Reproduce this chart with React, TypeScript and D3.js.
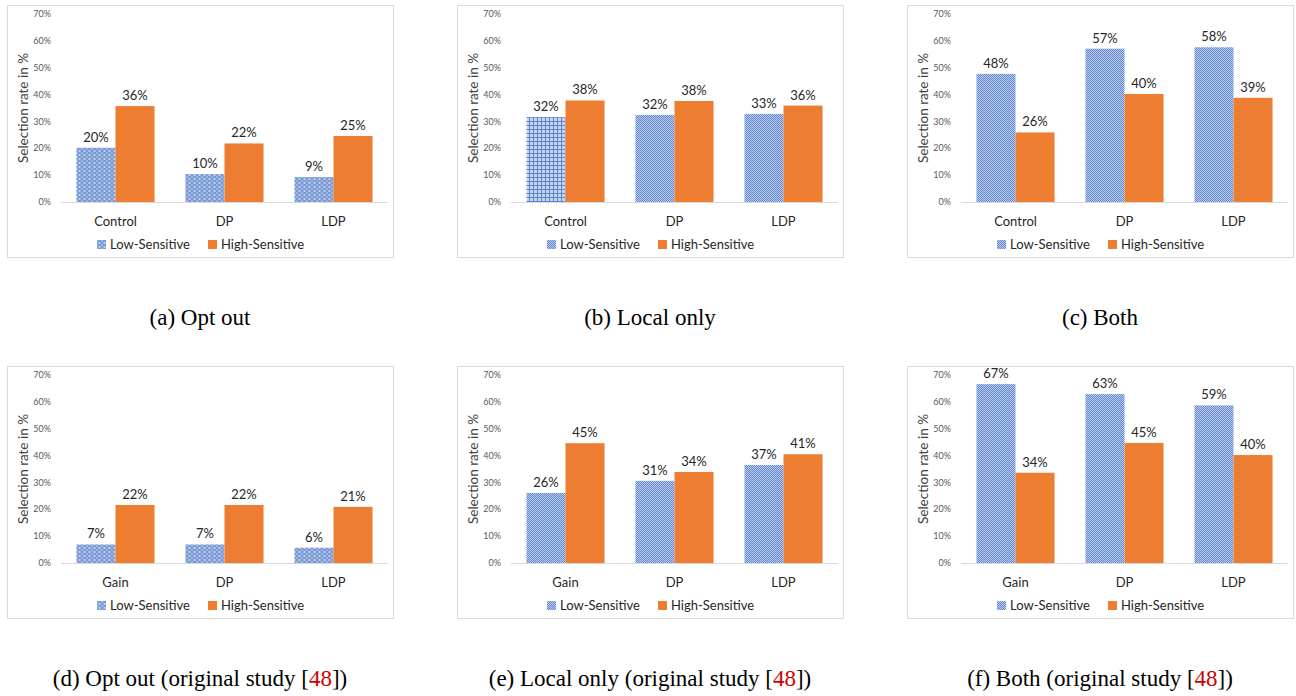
import React from 'react';
import * as d3 from 'd3';

// categories
const catsTop = ['Control', 'DP', 'LDP'];
const catsBottom = ['Gain', 'DP', 'LDP'];
const seriesNames = ['Low-Sensitive', 'High-Sensitive'];
const yTicks = [0, 10, 20, 30, 40, 50, 60, 70];

// values in %
const optOutLow = [20.2, 10.4, 9.3];
const optOutHigh = [35.7, 21.8, 24.6];
const localLow = [31.6, 32.4, 32.8];
const localHigh = [37.8, 37.6, 35.9];
const bothLow = [47.7, 57.1, 57.6];
const bothHigh = [25.9, 40.2, 38.8];
const origOptOutLow = [6.9, 6.9, 5.7];
const origOptOutHigh = [21.6, 21.6, 20.9];
const origLocalLow = [26.1, 30.6, 36.5];
const origLocalHigh = [44.6, 33.9, 40.5];
const origBothLow = [66.6, 62.9, 58.7];
const origBothHigh = [33.6, 44.7, 40.2];

const captions = ['(a) Opt out', '(b) Local only', '(c) Both', '(d) Opt out', '(e) Local only', '(f) Both'];

const BLUE = '#4472C4';
const ORANGE = '#ED7D31';
const FONT = 'Lato, "Open Sans", sans-serif';

const panels = [
  { cats: catsTop, low: optOutLow, high: optOutHigh, pat: ['wave', 'wave', 'wave'], legendPat: 'wave', x: 7, y: 5 },
  { cats: catsTop, low: localLow, high: localHigh, pat: ['grid', 'checker', 'checker'], legendPat: 'checker', x: 457, y: 5 },
  { cats: catsTop, low: bothLow, high: bothHigh, pat: ['checker', 'checker', 'checker'], legendPat: 'checker', x: 907, y: 5 },
  { cats: catsBottom, low: origOptOutLow, high: origOptOutHigh, pat: ['wave', 'wave', 'wave'], legendPat: 'wave', x: 7, y: 366 },
  { cats: catsBottom, low: origLocalLow, high: origLocalHigh, pat: ['checker', 'checker', 'checker'], legendPat: 'checker', x: 457, y: 366 },
  { cats: catsBottom, low: origBothLow, high: origBothHigh, pat: ['checker', 'checker', 'checker'], legendPat: 'checker', x: 907, y: 366 },
];

const W = 386;
const H = 252;
const plot = { left: 54, right: 381, top: 9, bottom: 197 };

const Panel = ({ p }: { p: any }) => {
  const y = d3.scaleLinear().domain([0, 70]).range([plot.bottom, plot.top]);
  const x0 = d3.scaleBand().domain(p.cats).range([plot.left, plot.right]).paddingInner(0.284).paddingOuter(0.142);
  const x1 = d3.scaleBand().domain(seriesNames).range([0, x0.bandwidth()]);
  const cx = W / 2;
  // legend layout
  const sw = 9;
  const lowW = 82, highW = 86, gap = 16;
  const total = sw + 4 + lowW + gap + sw + 4 + highW;
  const lx = cx - total / 2 + 2;
  return (
    <g transform={`translate(${p.x},${p.y})`}>
      <rect x={0.5} y={0.5} width={W} height={H} fill="#fff" stroke="#D9D9D9" />
      {yTicks.map(t => (
        <text key={t} x={44} y={y(t)} dy="0.35em" textAnchor="end" fontSize={9} fill="#595959" fontFamily={FONT}>{t}%</text>
      ))}
      <text transform={`translate(16,${(plot.top + plot.bottom) / 2}) rotate(-90)`} textAnchor="middle" dy="0.35em" fontSize={13.5} fill="#404040" fontFamily={FONT}>Selection rate in %</text>
      {p.cats.map((c: string, i: number) => {
        const bx = x0(c)!;
        const vals = [p.low[i], p.high[i]];
        return (
          <g key={c}>
            {vals.map((v: number, j: number) => {
              const xs = bx + x1(seriesNames[j])!;
              const fill = j === 0 ? `url(#pat-${p.pat[i]})` : ORANGE;
              return (
                <g key={j}>
                  <rect x={xs} y={y(v)} width={x1.bandwidth()} height={y(0) - y(v)} fill={fill} />
                  <text x={xs + x1.bandwidth() / 2} y={y(v) - 6} textAnchor="middle" fontSize={13} fill="#262626" fontFamily={FONT}>{Math.round(v)}%</text>
                </g>
              );
            })}
            <text x={bx + x0.bandwidth() / 2} y={221} textAnchor="middle" fontSize={13} fill="#262626" fontFamily={FONT}>{c}</text>
          </g>
        );
      })}
      <line x1={plot.left} x2={plot.right} y1={plot.bottom + 0.5} y2={plot.bottom + 0.5} stroke="#D9D9D9" />
      <rect x={lx} y={235} width={sw} height={sw} fill={`url(#pat-${p.legendPat})`} />
      <text x={lx + sw + 4} y={243.5} fontSize={13} fill="#262626" fontFamily={FONT}>{seriesNames[0]}</text>
      <rect x={lx + sw + 4 + lowW + gap} y={235} width={sw} height={sw} fill={ORANGE} />
      <text x={lx + 2 * sw + 8 + lowW + gap} y={243.5} fontSize={13} fill="#262626" fontFamily={FONT}>{seriesNames[1]}</text>
    </g>
  );
};

const Caption = ({ i, x, y }: { i: number; x: number; y: number }) => (
  <text x={x} y={y} textAnchor="middle" fontSize={23} fontFamily='"Liberation Serif", "Times New Roman", serif' fill="#000">
    {captions[i]}
    {i >= 3 ? (
      <>
        {' (original study ['}
        <tspan fill="#CC0000">48</tspan>
        {'])'}
      </>
    ) : null}
  </text>
);

export default function App() {
  return (
    <svg width={1296} height={696} style={{ position: 'absolute', left: 0, top: 0, background: '#fff' }}>
      <defs>
        <pattern id="pat-wave" patternUnits="userSpaceOnUse" width={5} height={4}>
          <rect width={5} height={4} fill="#9DB4E2" />
          <ellipse cx={2.5} cy={2} rx={2} ry={1.3} fill="#D6E0F4" stroke={BLUE} strokeWidth={0.7} />
        </pattern>
        <pattern id="pat-grid" patternUnits="userSpaceOnUse" width={4} height={4}>
          <rect width={4} height={4} fill="#C9D7F1" />
          <rect width={4} height={1} fill="#5A83CC" />
          <rect width={1} height={4} fill="#5A83CC" />
        </pattern>
        <pattern id="pat-checker" patternUnits="userSpaceOnUse" width={2} height={2}>
          <rect width={2} height={2} fill="#BCCDEE" />
          <rect width={1} height={1} fill="#5F86CE" />
          <rect x={1} y={1} width={1} height={1} fill="#5F86CE" />
        </pattern>
      </defs>
      {panels.map((p, i) => (
        <Panel key={i} p={p} />
      ))}
      {panels.map((p, i) => (
        <Caption key={i} i={i} x={p.x + W / 2} y={i < 3 ? 325 : 686} />
      ))}
    </svg>
  );
}
